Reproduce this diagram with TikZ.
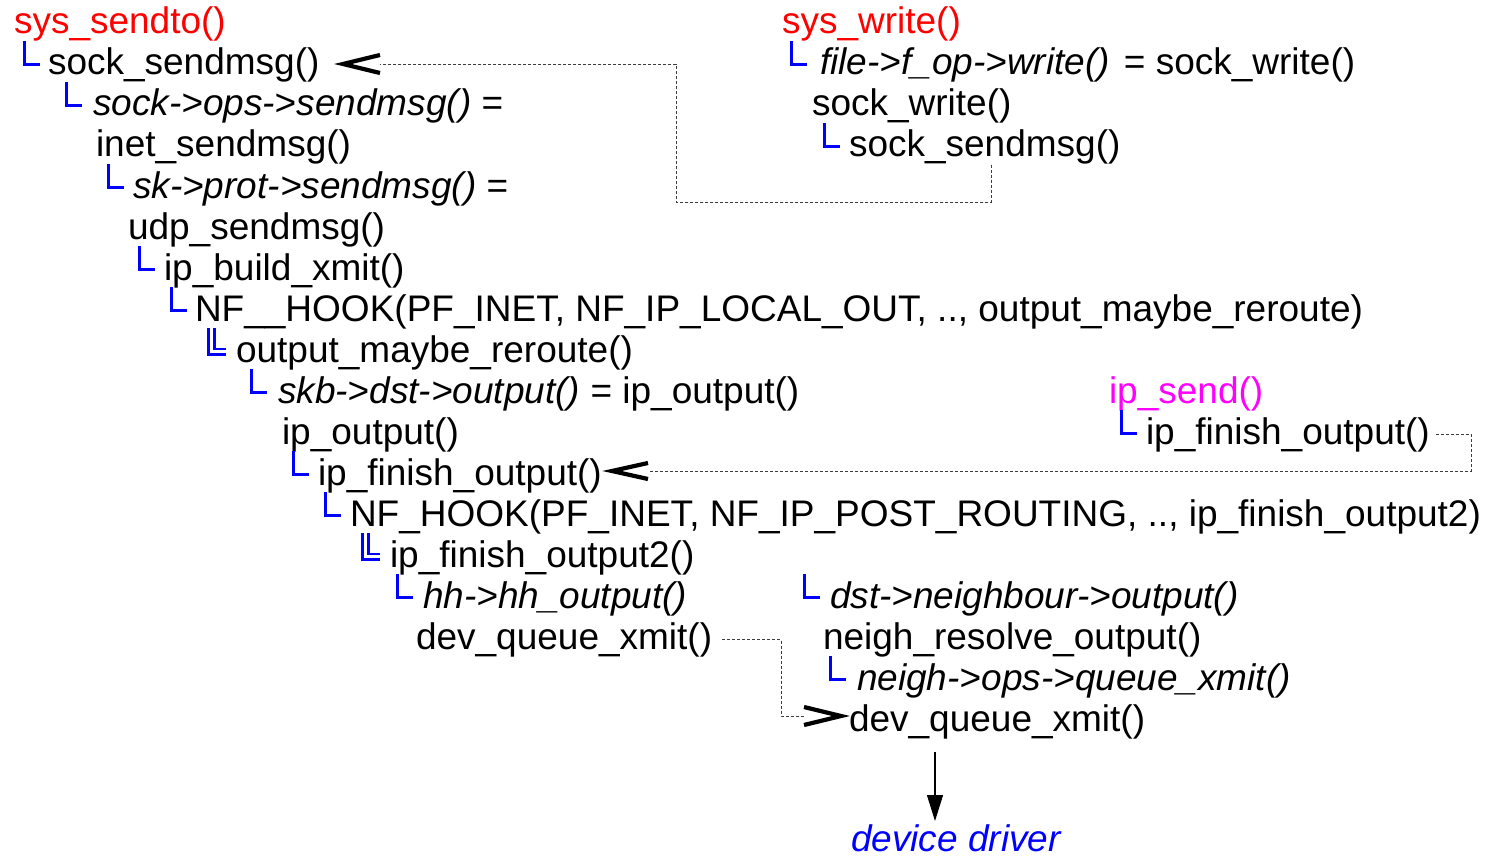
\documentclass[tikz,border=0pt]{standalone}
\usepackage{fontspec}
\setmainfont{Liberation Sans}
\usetikzlibrary{arrows.meta,calc}
\definecolor{lred}{RGB}{255,0,0}
\definecolor{lmag}{RGB}{255,0,255}
\definecolor{lblue}{RGB}{0,0,255}
\definecolor{dotgray}{RGB}{60,60,60}
\tikzset{
  txt/.style={anchor=base west, inner sep=0pt, outer sep=0pt, font=\fontsize{37}{44}\selectfont, text=black},
  fn/.style={txt},
  root/.style={txt, text=lred},
  rootm/.style={txt, text=lmag},
  drv/.style={txt, text=lblue, font=\fontsize{37}{44}\selectfont\itshape},
  lglyph/.pic={\draw[lblue, line width=3.4pt] (1.7,-34) |- (17,-10.7);},
  dlglyph/.pic={\draw[lblue, line width=2.6pt] (1.5,-34) |- (19,-7.5);
                \draw[lblue, line width=2.6pt] (7.5,-34) |- (19,-13);},
  dotline/.style={dotgray, line width=0.8pt, dash pattern=on 3pt off 2pt},
  chev/.style={black, line width=4.2pt, line join=miter, miter limit=20},
  solidarrow/.style={black, line width=1.2pt, -{Triangle[length=26pt,width=16pt]}}
}
\begin{document}
\begin{tikzpicture}[x=1pt,y=-1pt]
\path[use as bounding box] (0,0) rectangle (1491,856);
% left column
\node[root] (sendto) at (14,34) {sys\_sendto()};
\pic at (23,75) {lglyph};
\node[fn] (ssm) at (48,75) {sock\_sendmsg()};
\pic at (65,116) {lglyph};
\node[fn] (opsm) at (93,116) {\textit{sock->ops->sendmsg()} =};
\node[fn] (inet) at (96,157) {inet\_sendmsg()};
\pic at (107,198) {lglyph};
\node[fn] (protsm) at (133,198) {\textit{sk->prot->sendmsg()} =};
\node[fn] (udp) at (128,239) {udp\_sendmsg()};
\pic at (138,280) {lglyph};
\node[fn] (ipbx) at (164,280) {ip\_build\_xmit()};
\pic at (170,321) {lglyph};
\node[fn] (nfh1) at (195,321) {NF\_\_HOOK(PF\_INET, NF\_IP\_LOCAL\_OUT, .., output\_maybe\_reroute)};
\pic at (207,362) {dlglyph};
\node[fn] (omr) at (236,362) {output\_maybe\_reroute()};
\pic at (250,403) {lglyph};
\node[fn] (skbdst) at (278,403) {\textit{skb->dst->output()} = ip\_output()};
\node[fn] (ipout) at (282,444) {ip\_output()};
\pic at (292,485) {lglyph};
\node[fn] (ifo1) at (318,485) {ip\_finish\_output()};
\pic at (324,526) {lglyph};
\node[fn] (nfh2) at (350,526) {NF\_HOOK(PF\_INET, NF\_IP\_POST\_ROUTING, .., ip\_finish\_output2)};
\pic at (361,567) {dlglyph};
\node[fn] (ifo2b) at (390,567) {ip\_finish\_output2()};
\pic at (396,608) {lglyph};
\node[fn] (hh) at (423,608) {\textit{hh->hh\_output()}};
\node[fn] (dqx1) at (416,649) {dev\_queue\_xmit()};
% right branch lower
\pic at (803,608) {lglyph};
\node[fn] (dstn) at (830,608) {\textit{dst->neighbour->output()}};
\node[fn] (nro) at (823,649) {neigh\_resolve\_output()};
\pic at (829,690) {lglyph};
\node[fn] (nqx) at (857,690) {\textit{neigh->ops->queue\_xmit()}};
\node[fn] (dqx2) at (849,731) {dev\_queue\_xmit()};
\node[drv] (dd) at (851,851) {device driver};
% right top
\node[root] (write) at (782,34) {sys\_write()};
\pic at (790,75) {lglyph};
\node[fn] (fop) at (820,75) {\textit{file->f\_op->write()}\hspace{14pt}= sock\_write()};
\node[fn] (sw) at (812,116) {sock\_write()};
\pic at (823,157) {lglyph};
\node[fn] (wsm) at (849,157) {sock\_sendmsg()};
% ip_send
\node[rootm] (ipsend) at (1109,403) {ip\_send()};
\pic at (1120,444) {lglyph};
\node[fn] (ifo3) at (1146,444) {ip\_finish\_output()};
% connectors
\coordinate (k1) at (676,202);
\coordinate (ch1) at (380,64);
\draw[dotline] (wsm.south -| 991,0) |- (k1) |- (ch1);
\draw[chev] ($(ch1)+(0,-9)$) -- ($(ch1)+(-37,0)$) -- ($(ch1)+(0,9)$);
\coordinate (k2) at (1471,471);
\coordinate (ch2) at (648,471);
\draw[dotline] ([xshift=6pt]ifo3.east) -| (k2) -- (ch2);
\draw[chev] ($(ch2)+(0,-8)$) -- ($(ch2)+(-36,0)$) -- ($(ch2)+(0,8)$);
\coordinate (k3) at (781,716);
\coordinate (ch3) at (804,716);
\draw[dotline] ([xshift=10pt]dqx1.east) -| (k3) -- (ch3);
\draw[chev] ($(ch3)+(0,-9)$) -- ($(ch3)+(37,0)$) -- ($(ch3)+(0,9)$);
\coordinate (a1) at (935,752);
\coordinate (a2) at (935,821);
\draw[solidarrow] (a1) -- (a2);
\end{tikzpicture}
\end{document}
